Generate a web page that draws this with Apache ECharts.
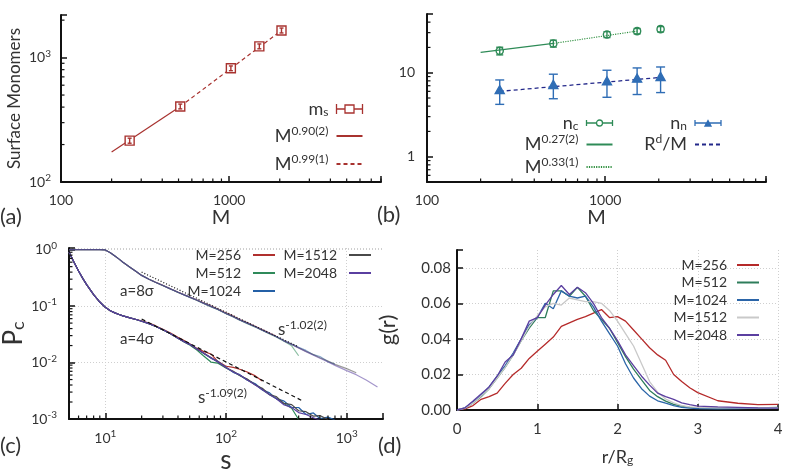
<!DOCTYPE html>
<html>
<head>
<meta charset="utf-8">
<title>Surface monomers, contacts and distributions</title>
<script src="https://cdn.jsdelivr.net/npm/echarts@6/dist/echarts.min.js"></script>
<style>
html, body { margin: 0; padding: 0; background: #fff; }
#chart { width: 787px; height: 472px; }
</style>
</head>
<body>
<div id="chart"></div>
<script>
// ---- (a) surface monomers ----
const chainM = [256, 512, 1024, 1512, 2048];
const msVal = [215, 405, 821, 1232, 1653];
const msErr = [10, 18, 36, 55, 75];
const fit090M = [200, 512];
const fit090Y = [174, 405];
const fit099M = [512, 2048];
const fit099Y = [405, 1653];

// ---- (b) n_c and n_n ----
const ncVal = [18.2, 22.3, 28.5, 31.3, 33.0];
const ncErr = [1.9, 2.1, 2.3, 2.3, 2.4];
const nnVal = [6.2, 7.15, 7.9, 8.5, 8.9];
const nnLo = [4.2, 4.9, 5.1, 5.5, 5.8];
const nnHi = [8.2, 9.6, 10.7, 11.4, 11.7];
const fit027M = [200, 512];
const fit027Y = [17.5, 22.3];
const fit033M = [512, 1512];
const fit033Y = [22.3, 31.3];
const rdmM = [256, 2048];
const rdmY = [6.0, 8.8];

// ---- (c) P_c(s) ----
const sVals = [5, 5.5, 6, 6.5, 7, 8, 9, 10, 11, 12, 13, 14, 16, 18, 20, 23, 26, 30, 35, 40, 45, 50, 57, 65, 75, 85,
  100, 115, 130, 150, 175, 200, 230, 260, 300, 350, 400, 460, 530, 600, 700, 800, 1000, 1200, 1450, 1800];
// a = 8 sigma
const up256 = [1, 1, 1, 1, 1, 1, 1, 0.99, 0.88, 0.77, 0.68, 0.60, 0.49, 0.41, 0.35, 0.30, 0.266, 0.233, 0.201, 0.177, 0.159, 0.145,
  0.129, 0.115, 0.101, 0.090, 0.076, 0.067, 0.058, 0.051, 0.044, 0.0385, 0.0333, 0.0296,
  null, null, null, null, null, null, null, null, null, null, null, null];
const up512 = [1, 1, 1, 1, 1, 1, 1, 0.99, 0.88, 0.77, 0.68, 0.60, 0.49, 0.41, 0.35, 0.30, 0.265, 0.231, 0.199, 0.175, 0.157, 0.143,
  0.127, 0.111, 0.097, 0.087, 0.073, 0.064, 0.056, 0.049, 0.0425, 0.037, 0.032, 0.0285, 0.024, 0.0198, 0.0132,
  null, null, null, null, null, null, null, null, null];
const up1024 = [1, 1, 1, 1, 1, 1, 1, 0.99, 0.88, 0.77, 0.68, 0.60, 0.49, 0.41, 0.35, 0.30, 0.265, 0.232, 0.20, 0.176, 0.158, 0.144,
  0.128, 0.113, 0.099, 0.088, 0.074, 0.065, 0.057, 0.050, 0.043, 0.0375, 0.0327, 0.029, 0.0245, 0.0212, 0.0186, 0.0164,
  0.0138, 0.0128, 0.0104, 0.0094, null, null, null, null];
const up1512 = [1, 1, 1, 1, 1, 1, 1, 0.99, 0.88, 0.77, 0.68, 0.60, 0.49, 0.41, 0.35, 0.30, 0.265, 0.232, 0.20, 0.176, 0.158, 0.144,
  0.128, 0.113, 0.099, 0.088, 0.074, 0.065, 0.057, 0.050, 0.043, 0.0375, 0.0327, 0.029, 0.0245, 0.021, 0.0182, 0.0158,
  0.0138, 0.0122, 0.0106, 0.0093, 0.0078, 0.0066, null, null];
const up2048 = [1, 1, 1, 1, 1, 1, 1, 0.99, 0.88, 0.77, 0.68, 0.60, 0.49, 0.41, 0.35, 0.30, 0.265, 0.232, 0.20, 0.176, 0.158, 0.144,
  0.128, 0.113, 0.099, 0.088, 0.074, 0.065, 0.057, 0.050, 0.043, 0.0375, 0.0327, 0.029, 0.0245, 0.021, 0.0182, 0.0156,
  0.0135, 0.0119, 0.0102, 0.0089, 0.0072, 0.0061, 0.0049, 0.0037];
// a = 4 sigma
const lo256 = [0.9, 0.6, 0.42, 0.31, 0.24, 0.16, 0.118, 0.095, 0.083, 0.076, 0.071, 0.067, 0.062, 0.058, 0.055, 0.050, 0.045, 0.039, 0.033, 0.028, 0.0245, 0.0215,
  0.018, 0.0158, 0.0142, 0.0106, 0.0086, 0.0082, 0.0076, 0.0068, 0.0058, 0.0047,
  null, null, null, null, null, null, null, null, null, null, null, null, null, null];
const lo512 = [0.9, 0.6, 0.42, 0.31, 0.24, 0.16, 0.118, 0.095, 0.083, 0.076, 0.071, 0.067, 0.062, 0.058, 0.054, 0.049, 0.044, 0.038, 0.032, 0.027, 0.0232, 0.0205,
  0.0168, 0.0132, 0.0102, 0.0098, 0.0080, 0.0068, 0.0059, 0.0049, 0.0041, 0.0033, 0.0027, 0.0023, 0.0019, 0.00155, 0.00098,
  null, null, null, null, null, null, null, null, null];
const lo1024 = [0.9, 0.6, 0.42, 0.31, 0.24, 0.16, 0.118, 0.095, 0.083, 0.076, 0.071, 0.067, 0.062, 0.058, 0.054, 0.049, 0.044, 0.038, 0.032, 0.027, 0.0235, 0.021,
  0.0176, 0.0146, 0.0120, 0.0106, 0.0083, 0.0067, 0.0061, 0.0049, 0.0042, 0.0033, 0.0029, 0.0023, 0.0021, 0.0016, 0.0016, 0.0012,
  0.00128, 0.00102, 0.00108, 0.00096, null, null, null, null];
const lo1512 = [0.9, 0.6, 0.42, 0.31, 0.24, 0.16, 0.118, 0.095, 0.083, 0.076, 0.071, 0.067, 0.062, 0.058, 0.054, 0.049, 0.044, 0.038, 0.032, 0.027, 0.0235, 0.021,
  0.0174, 0.0147, 0.0123, 0.0103, 0.0081, 0.0070, 0.0059, 0.0051, 0.0040, 0.0035, 0.0027, 0.0025, 0.0019, 0.0018, 0.0014, 0.00135,
  0.00112, 0.00115, 0.00098, null, null, null, null, null];
const lo2048 = [0.92, 0.6, 0.42, 0.31, 0.24, 0.16, 0.118, 0.095, 0.083, 0.076, 0.071, 0.067, 0.062, 0.058, 0.054, 0.049, 0.044, 0.038, 0.032, 0.027, 0.0235, 0.021,
  0.0175, 0.0149, 0.0121, 0.0103, 0.0082, 0.0068, 0.0060, 0.0049, 0.0040, 0.0033, 0.0027, 0.0023, 0.0018, 0.0016, 0.0013, 0.0012,
  0.00105, 0.00095, null, null, null, null, null, null];
const slope102S = [20, 400];
const slope102Y = [0.40, 0.019];
const slope109S = [20, 430];
const slope109Y = [0.059, 0.0021];

// ---- (d) g(r) ----
const rVals = [0, 0.1, 0.2, 0.3, 0.4, 0.5, 0.6, 0.7, 0.8, 0.9, 1.0, 1.1, 1.2, 1.3, 1.4, 1.5, 1.6, 1.7, 1.8, 1.9, 2.0,
  2.1, 2.2, 2.3, 2.4, 2.5, 2.6, 2.7, 2.8, 2.9, 3.0, 3.25, 3.5, 3.75, 4.0];
const g256 = [0, 0.0006, 0.0025, 0.006, 0.0075, 0.0095, 0.015, 0.020, 0.0235, 0.029, 0.033, 0.037, 0.041, 0.047, 0.049, 0.051, 0.0525, 0.0545, 0.0565, 0.052, 0.0525,
  0.050, 0.045, 0.040, 0.035, 0.031, 0.028, 0.020, 0.016, 0.0125, 0.0098, 0.0052, 0.0038, 0.0030, 0.0032];
const g512 = [0, 0.001, 0.004, 0.0075, 0.012, 0.018, 0.024, 0.031, 0.039, 0.046, 0.052, 0.052, 0.067, 0.067, 0.064, 0.069, 0.064, 0.056, 0.051, 0.046, 0.038,
  0.030, 0.023, 0.017, 0.011, 0.0075, 0.005, 0.0032, 0.0022, 0.0015, 0.0012, 0.001, 0.001, 0.0012, 0.0015];
const g1024 = [0, 0.0012, 0.0045, 0.008, 0.013, 0.019, 0.025, 0.032, 0.040, 0.048, 0.052, 0.060, 0.057, 0.067, 0.064, 0.063, 0.064, 0.058, 0.050, 0.043, 0.036,
  0.026, 0.018, 0.012, 0.0078, 0.0052, 0.0038, 0.0025, 0.0015, 0.001, 0.0008, 0.0006, 0.0008, 0.001, 0.0012];
const g1512 = [0, 0.001, 0.004, 0.0078, 0.012, 0.018, 0.024, 0.031, 0.039, 0.047, 0.053, 0.058, 0.060, 0.059, 0.063, 0.062, 0.061, 0.061, 0.060, 0.056, 0.050,
  0.043, 0.036, 0.026, 0.016, 0.010, 0.0062, 0.004, 0.0025, 0.0018, 0.0015, 0.0012, 0.0012, 0.0012, 0.0012];
const g2048 = [0, 0.0012, 0.005, 0.009, 0.013, 0.019, 0.027, 0.031, 0.040, 0.050, 0.052, 0.059, 0.065, 0.070, 0.065, 0.069, 0.066, 0.060, 0.052, 0.046, 0.039,
  0.031, 0.025, 0.019, 0.014, 0.0095, 0.0075, 0.006, 0.004, 0.003, 0.0022, 0.0018, 0.0015, 0.0012, 0.001];

// minor tick positions on the log axes
const minorM = [200, 300, 400, 500, 600, 700, 800, 900, 2000, 3000, 4000, 5000, 6000, 7000, 8000];
const minorMs = [200, 300, 400, 500, 600, 700, 800, 900, 2000];
const minorN = [0.6, 0.7, 0.8, 0.9, 2, 3, 4, 5, 6, 7, 8, 9, 20, 30, 40];
const minorS = [6, 7, 8, 9, 20, 30, 40, 50, 60, 70, 80, 90, 200, 300, 400, 500, 600, 700, 800, 900];
const minorP = [0.002, 0.003, 0.004, 0.005, 0.006, 0.007, 0.008, 0.009, 0.02, 0.03, 0.04, 0.05, 0.06, 0.07, 0.08, 0.09,
  0.2, 0.3, 0.4, 0.5, 0.6, 0.7, 0.8, 0.9];

const FONT = 'Lato';
const TXT = '#333';
const RED = '#a8322f';
const GREEN = '#2e8b57';
const BLUE = '#2f6db5';
const NAVY = '#23288a';
const cCol = { 256: '#b0302e', 512: '#2f8a5a', 1024: '#2460a6', 1512: '#4a4a4a', 2048: '#5a3fa0' };
const dCol = { 256: '#b52a2a', 512: '#2e7d5b', 1024: '#2b65a8', 1512: '#c9c9c9', 2048: '#5b3fa0' };

const chart = echarts.init(document.getElementById('chart'));

function rich(size) {
  return {
    sup: { fontFamily: FONT, fontSize: Math.round(size * 0.68), lineHeight: Math.round(size * 0.68), padding: [0, 0, Math.round(size * 0.55), 0], color: TXT },
    sub: { fontFamily: FONT, fontSize: Math.round(size * 0.68), lineHeight: Math.round(size * 0.68), padding: [Math.round(size * 0.4), 0, 0, 0], color: TXT }
  };
}

function isDecade(v) {
  const e = Math.log10(v);
  return Math.abs(e - Math.round(e)) < 1e-6;
}
const powLabel = v => isDecade(v) ? '10{sup|' + Math.round(Math.log10(v)) + '}' : '';
const plainLabel = v => isDecade(v) ? String(Math.round(v)) : '';

function axisBase(gridIndex, type, min, max) {
  return {
    gridIndex, type, min, max,
    axisLine: { show: true, lineStyle: { color: '#111', width: 2 } },
    axisTick: { show: true, inside: true, length: 6, lineStyle: { color: '#111', width: 1.5 } },
    splitLine: { show: false },
    axisLabel: { fontFamily: FONT, fontSize: 14, color: TXT, margin: 10, rich: rich(14) },
    nameTextStyle: { fontFamily: FONT, color: TXT }
  };
}

function lineSeries(name, grid, xs, ys, color, type, width) {
  return {
    name, type: 'line', xAxisIndex: grid, yAxisIndex: grid,
    data: xs.map((x, i) => [x, ys[i]]),
    symbol: 'none', connectNulls: false,
    lineStyle: { color, width: width || 1.2, type: type || 'solid' },
    itemStyle: { color },
    emphasis: { disabled: true }, z: 3
  };
}

function pointSeries(name, grid, xs, ys, los, his, color, shape, fill, cap) {
  return {
    name, type: 'custom', xAxisIndex: grid, yAxisIndex: grid,
    data: xs.map((x, i) => [x, ys[i], los[i], his[i]]),
    encode: { x: 0, y: 1 }, z: 5,
    itemStyle: { color },
    renderItem: (params, api) => {
      const x = api.value(0);
      const p = api.coord([x, api.value(1)]);
      const lo = api.coord([x, api.value(2)]);
      const hi = api.coord([x, api.value(3)]);
      const st = { stroke: color, lineWidth: 1.4, fill: 'none' };
      const bar = [
        { type: 'line', shape: { x1: p[0], y1: lo[1], x2: p[0], y2: hi[1] }, style: st },
        { type: 'line', shape: { x1: p[0] - cap, y1: lo[1], x2: p[0] + cap, y2: lo[1] }, style: st },
        { type: 'line', shape: { x1: p[0] - cap, y1: hi[1], x2: p[0] + cap, y2: hi[1] }, style: st }
      ];
      let mark;
      if (shape === 'rect') {
        mark = { type: 'rect', shape: { x: p[0] - 4.5, y: p[1] - 4.5, width: 9, height: 9 }, style: Object.assign({}, st, { fill }) };
        return { type: 'group', children: [mark].concat(bar) };
      }
      if (shape === 'circle') {
        mark = { type: 'circle', shape: { cx: p[0], cy: p[1], r: 3.6 }, style: Object.assign({}, st, { fill }) };
        return { type: 'group', children: [mark].concat(bar) };
      }
      mark = { type: 'polygon', shape: { points: [[p[0], p[1] - 4.5], [p[0] - 4.5, p[1] + 3.5], [p[0] + 4.5, p[1] + 3.5]] }, style: Object.assign({}, st, { fill }) };
      return { type: 'group', children: bar.concat([mark]) };
    }
  };
}

function minorTicks(grid, vals, dim, other) {
  return {
    type: 'custom', xAxisIndex: grid, yAxisIndex: grid, silent: true, z: 6,
    data: vals.map(v => dim === 'x' ? [v, other] : [other, v]),
    encode: { x: 0, y: 1 },
    renderItem: (params, api) => {
      const cs = params.coordSys;
      const p = api.coord([api.value(0), api.value(1)]);
      const st = { stroke: '#111', lineWidth: 1.2 };
      if (dim === 'x') {
        const y0 = cs.y + cs.height;
        return { type: 'line', shape: { x1: p[0], y1: y0, x2: p[0], y2: y0 - 3.5 }, style: st };
      }
      return { type: 'line', shape: { x1: cs.x, y1: p[1], x2: cs.x + 3.5, y2: p[1] }, style: st };
    }
  };
}

const legendLabels = {
  ms: 'm{sub|s}', fit090: 'M{sup|0.90(2)}', fit099: 'M{sup|0.99(1)}',
  nc: 'n{sub|c}', fit027: 'M{sup|0.27(2)}', fit033: 'M{sup|0.33(1)}', nn: 'n{sub|n}', rdm: 'R{sup|d}/M',
  c256: 'M=256', c512: 'M=512', c1024: 'M=1024', c1512: 'M=1512', c2048: 'M=2048',
  d256: 'M=256', d512: 'M=512', d1024: 'M=1024', d1512: 'M=1512', d2048: 'M=2048'
};

function legend(names, right, top, size, gap, itemWidth, pad) {
  return {
    orient: 'vertical', align: 'right', right, top, padding: 0,
    itemGap: gap, itemWidth, itemHeight: 10, selectedMode: false,
    itemStyle: { opacity: 0 },
    data: names,
    formatter: n => legendLabels[n],
    textStyle: { fontFamily: FONT, fontSize: size, lineHeight: size + 2, color: TXT, padding: [0, pad, 0, 0], rich: rich(size) }
  };
}

const iconSquare = 'path://M0,0L0,10M0,5L8.5,5M8.5,1L17.5,1L17.5,9L8.5,9ZM17.5,5L26,5M26,0L26,10';
const iconCircle = 'path://M0,2L0,8M0,5L10,5M10,5A3,3,0,1,1,16,5A3,3,0,1,1,10,5M16,5L26,5M26,2L26,8';
const iconTri = 'path://M0,2L0,8M0,5L26,5M26,2L26,8M10,8L13,2.5L16,8Z';

const xAxes = [
  Object.assign(axisBase(0, 'log', 100, 8000), {
    name: 'M', nameLocation: 'middle', nameGap: 26, nameTextStyle: { fontFamily: FONT, fontSize: 20, color: TXT },
    axisLabel: Object.assign(axisBase(0).axisLabel, { formatter: plainLabel, margin: 11 })
  }),
  Object.assign(axisBase(1, 'log', 100, 8000), {
    name: 'M', nameLocation: 'middle', nameGap: 26, nameTextStyle: { fontFamily: FONT, fontSize: 20, color: TXT },
    axisLabel: Object.assign(axisBase(1).axisLabel, { formatter: plainLabel, margin: 11 })
  }),
  Object.assign(axisBase(2, 'log', 5, 2000), {
    name: 's', nameLocation: 'middle', nameGap: 21, nameTextStyle: { fontFamily: FONT, fontSize: 26, color: TXT },
    axisLabel: Object.assign(axisBase(2).axisLabel, { formatter: powLabel, margin: 12 }),
    splitLine: { show: true, showMinLine: false, showMaxLine: false, lineStyle: { color: '#cfcfcf', type: [1, 2], width: 1 } }
  }),
  Object.assign(axisBase(3, 'value', 0, 4), {
    interval: 1,
    name: 'r/R{sub|g}', nameLocation: 'middle', nameGap: 38,
    nameTextStyle: { fontFamily: FONT, fontSize: 18, color: TXT, rich: rich(18) },
    axisLabel: Object.assign(axisBase(3).axisLabel, { fontSize: 15, margin: 12 }),
    splitLine: { show: true, showMinLine: false, lineStyle: { color: '#cfcfcf', type: [1, 2], width: 1 } }
  })
];

const yAxes = [
  Object.assign(axisBase(0, 'log', 100, 2200), {
    name: 'Surface Monomers', nameLocation: 'middle', nameGap: 38, nameRotate: 90,
    nameTextStyle: { fontFamily: FONT, fontSize: 17, color: TXT },
    axisLabel: Object.assign(axisBase(0).axisLabel, { formatter: powLabel })
  }),
  Object.assign(axisBase(1, 'log', 0.5, 50), {
    axisLabel: Object.assign(axisBase(1).axisLabel, { formatter: plainLabel, margin: 12 })
  }),
  Object.assign(axisBase(2, 'log', 0.001, 1.07), {
    name: 'P{sub|c}', nameLocation: 'middle', nameGap: 36, nameRotate: 90,
    nameTextStyle: { fontFamily: FONT, fontSize: 26, color: TXT, rich: rich(26) },
    axisLabel: Object.assign(axisBase(2).axisLabel, { formatter: powLabel, margin: 12 }),
    splitLine: { show: true, showMinLine: false, lineStyle: { color: '#cfcfcf', type: [1, 2], width: 1 } }
  }),
  Object.assign(axisBase(3, 'value', 0, 0.09), {
    interval: 0.02,
    name: 'g(r)', nameLocation: 'middle', nameGap: 58, nameRotate: 90,
    nameTextStyle: { fontFamily: FONT, fontSize: 22, color: TXT },
    axisLabel: Object.assign(axisBase(3).axisLabel, {
      fontSize: 15, margin: 6,
      formatter: v => Math.abs(v / 0.02 - Math.round(v / 0.02)) < 1e-6 ? v.toFixed(2) : ''
    }),
    splitLine: { show: true, showMinLine: false, showMaxLine: false, lineStyle: { color: '#cfcfcf', type: [1, 2], width: 1 } }
  })
];

const series = [
  // (a)
  lineSeries('fit090', 0, fit090M, fit090Y, RED, 'solid', 1.2),
  lineSeries('fit099', 0, fit099M, fit099Y, RED, [4, 3], 1.2),
  pointSeries('ms', 0, chainM, msVal, msVal.map((v, i) => v - msErr[i]), msVal.map((v, i) => v + msErr[i]), RED, 'rect', '#fff', 2),
  minorTicks(0, minorM, 'x', 100),
  minorTicks(0, minorMs, 'y', 100),
  // (b)
  lineSeries('fit027', 1, fit027M, fit027Y, GREEN, 'solid', 1.3),
  lineSeries('fit033', 1, fit033M, fit033Y, '#2f8f3f', [1.2, 1.2], 1.1),
  lineSeries('rdm', 1, rdmM, rdmY, NAVY, [4, 3], 1.3),
  pointSeries('nc', 1, chainM, ncVal, ncVal.map((v, i) => v - ncErr[i]), ncVal.map((v, i) => v + ncErr[i]), GREEN, 'circle', 'none', 3.5),
  pointSeries('nn', 1, chainM, nnVal, nnLo, nnHi, BLUE, 'tri', BLUE, 4.5),
  minorTicks(1, minorM, 'x', 1),
  minorTicks(1, minorN, 'y', 100),
  // (c) a = 8 sigma (lighter)
  ...[[256, up256], [512, up512], [1024, up1024], [1512, up1512], [2048, up2048]].map(([m, ys]) => {
    const s = lineSeries('u' + m, 2, sVals, ys, cCol[m], 'solid', 1.2);
    s.lineStyle.opacity = 0.55;
    return s;
  }),
  // (c) a = 4 sigma
  lineSeries('c256', 2, sVals, lo256, cCol[256], 'solid', 1.2),
  lineSeries('c512', 2, sVals, lo512, cCol[512], 'solid', 1.2),
  lineSeries('c1024', 2, sVals, lo1024, cCol[1024], 'solid', 1.2),
  lineSeries('c1512', 2, sVals, lo1512, cCol[1512], 'solid', 1.2),
  lineSeries('c2048', 2, sVals, lo2048, cCol[2048], 'solid', 1.2),
  lineSeries('slope102', 2, slope102S, slope102Y, '#111', [1, 2], 1.2),
  lineSeries('slope109', 2, slope109S, slope109Y, '#111', [4, 3], 1.2),
  minorTicks(2, minorS, 'x', 0.001),
  minorTicks(2, minorP, 'y', 5),
  // (d)
  lineSeries('d256', 3, rVals, g256, dCol[256], 'solid', 1.3),
  lineSeries('d512', 3, rVals, g512, dCol[512], 'solid', 1.3),
  lineSeries('d1024', 3, rVals, g1024, dCol[1024], 'solid', 1.3),
  lineSeries('d1512', 3, rVals, g1512, dCol[1512], 'solid', 1.3),
  lineSeries('d2048', 3, rVals, g2048, dCol[2048], 'solid', 1.3)
];

const legends = [
  legend([
    { name: 'ms', icon: iconSquare, itemStyle: { opacity: 1, color: 'none', borderColor: RED, borderWidth: 1.3 } },
    'fit090', 'fit099'
  ], 422, 99, 18, 6, 26, 3),
  legend([
    { name: 'nc', icon: iconCircle, itemStyle: { opacity: 1, color: 'none', borderColor: GREEN, borderWidth: 1.3 } },
    'fit027', 'fit033'
  ], 172, 113, 18, 0.5, 26, 3),
  legend([
    { name: 'nn', icon: iconTri, itemStyle: { opacity: 1, color: BLUE, borderColor: BLUE, borderWidth: 1.3 } },
    'rdm'
  ], 65, 113, 18, 0.5, 26, 3),
  legend(['c256', 'c512', 'c1024'], 511, 247, 14, 2, 22, 7),
  legend(['c1512', 'c2048'], 415, 247, 14, 2, 22, 7),
  legend(['d256', 'd512', 'd1024', 'd1512', 'd2048'], 27, 257, 14, 1.5, 22, 5)
];

function note(text, x, y, size) {
  return {
    type: 'text', x, y,
    style: { text, fontFamily: FONT, fontSize: size, fill: TXT, verticalAlign: 'middle', rich: rich(size) }
  };
}

chart.setOption({
  animation: false,
  backgroundColor: '#fff',
  textStyle: { fontFamily: FONT },
  grid: [
    { left: 61, top: 15, width: 320, height: 167, containLabel: false, outerBoundsMode: 'none' },
    { left: 427, top: 14, width: 339, height: 168, containLabel: false, outerBoundsMode: 'none' },
    { left: 69, top: 248, width: 314, height: 171, containLabel: false, outerBoundsMode: 'none' },
    { left: 457, top: 250, width: 321, height: 160, containLabel: false, outerBoundsMode: 'none' }
  ],
  xAxis: xAxes,
  yAxis: yAxes,
  legend: legends,
  series,
  graphic: [
    note('(a)', 0, 217, 22),
    note('(b)', 377, 215, 22),
    note('(c)', 0, 446, 22),
    note('(d)', 378, 446, 22),
    note('a=8σ', 120, 291, 15),
    note('a=4σ', 120, 339, 15),
    note('s{sup|-1.02(2)}', 278, 330, 17),
    note('s{sup|-1.09(2)}', 198, 398, 17)
  ]
});
</script>
</body>
</html>
